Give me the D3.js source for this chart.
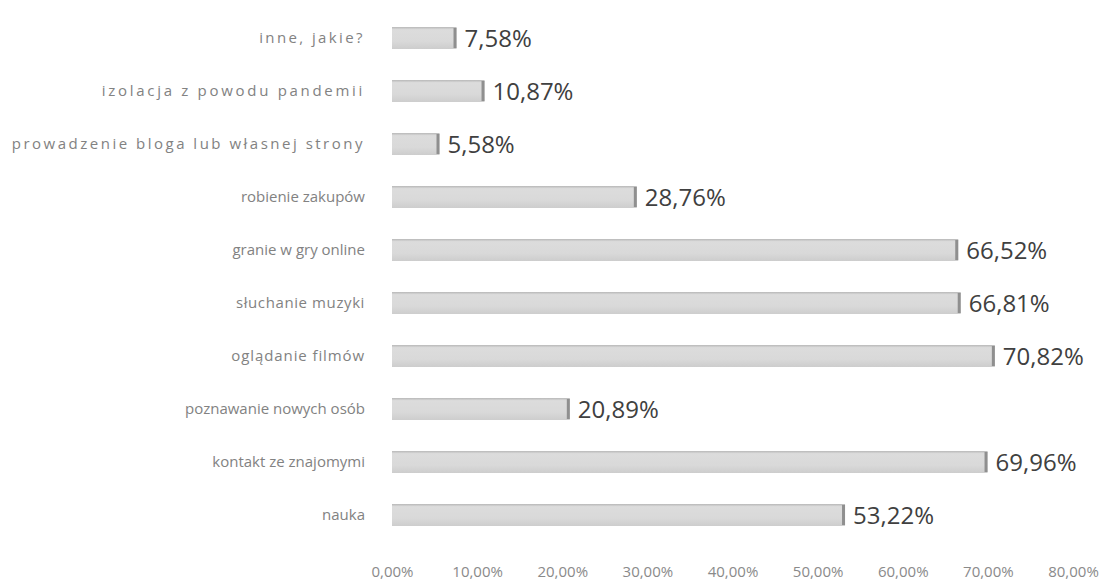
<!DOCTYPE html>
<html>
<head>
<meta charset="utf-8">
<script src="https://cdn.jsdelivr.net/npm/d3@7"></script>
<style>
  html, body { margin: 0; padding: 0; background: #ffffff; }
  svg { display: block; }
</style>
</head>
<body>
<svg id="chart" width="1102" height="583"></svg>
<script>
// Activity categories, listed top to bottom
const categories = [
  "inne, jakie?",
  "izolacja z powodu pandemii",
  "prowadzenie bloga lub własnej strony",
  "robienie zakupów",
  "granie w gry online",
  "słuchanie muzyki",
  "oglądanie filmów",
  "poznawanie nowych osób",
  "kontakt ze znajomymi",
  "nauka"
];

// Share of respondents (%)
const values = [7.58, 10.87, 5.58, 28.76, 66.52, 66.81, 70.82, 20.89, 69.96, 53.22];

// Value labels as printed beside each bar
const valueLabels = ["7,58%", "10,87%", "5,58%", "28,76%", "66,52%", "66,81%", "70,82%", "20,89%", "69,96%", "53,22%"];

// Horizontal axis ticks
const tickValues = [0, 10, 20, 30, 40, 50, 60, 70, 80];
const tickLabels = ["0,00%", "10,00%", "20,00%", "30,00%", "40,00%", "50,00%", "60,00%", "70,00%", "80,00%"];

// Extra letter tracking (px) for the more loosely set category labels
const labelTracking = {
  "inne, jakie?": 2.4,
  "izolacja z powodu pandemii": 2.7,
  "prowadzenie bloga lub własnej strony": 2.5,
  "słuchanie muzyki": 0.6,
  "oglądanie filmów": 0.9
};

const svg = d3.select("#chart");

const x = d3.scaleLinear().domain([0, 80]).range([392, 1073]);
const y = d3.scalePoint().domain(categories).range([38, 515]);
const barH = 22;

// Soft vertical shading for the bars
const defs = svg.append("defs");
const grad = defs.append("linearGradient")
  .attr("id", "barShade").attr("x1", 0).attr("y1", 0).attr("x2", 0).attr("y2", 1);
grad.append("stop").attr("offset", "0%").attr("stop-color", "#b8b8b8");
grad.append("stop").attr("offset", "12%").attr("stop-color", "#dcdcdc");
grad.append("stop").attr("offset", "65%").attr("stop-color", "#d9d9d9");
grad.append("stop").attr("offset", "100%").attr("stop-color", "#cdcdcd");

const rows = svg.append("g").selectAll("g.row")
  .data(categories.map((c, i) => ({ c, v: values[i], label: valueLabels[i] })))
  .join("g").attr("class", "row");

// Bars
rows.append("rect")
  .attr("x", x(0))
  .attr("y", d => y(d.c) - barH / 2)
  .attr("width", d => x(d.v) - x(0))
  .attr("height", barH)
  .attr("fill", "url(#barShade)");

// Darker end cap on each bar
rows.append("rect")
  .attr("x", d => x(d.v) - 3)
  .attr("y", d => y(d.c) - barH / 2 + 1)
  .attr("width", 3)
  .attr("height", barH - 2)
  .attr("fill", "#8f8f8f");

// Category labels
rows.append("text")
  .attr("x", 365)
  .attr("y", d => y(d.c))
  .attr("dy", "0.35em")
  .attr("text-anchor", "end")
  .attr("font-family", "'Open Sans', sans-serif")
  .attr("font-size", 15)
  .attr("letter-spacing", d => (labelTracking[d.c] || 0) + "px")
  .attr("fill", "#828282")
  .text(d => d.c);

// Value labels
rows.append("text")
  .attr("x", d => x(d.v) + 8)
  .attr("y", d => y(d.c))
  .attr("dy", "0.36em")
  .attr("font-family", "'Open Sans', sans-serif")
  .attr("font-size", 24)
  .attr("fill", "#404040")
  .text(d => d.label);

// Bottom axis (labels only)
const axis = d3.axisBottom(x)
  .tickValues(tickValues)
  .tickFormat((d, i) => tickLabels[i])
  .tickSize(0)
  .tickPadding(3);

const gAxis = svg.append("g")
  .attr("transform", "translate(0,563)")
  .call(axis);
gAxis.select(".domain").remove();
gAxis.selectAll("text")
  .attr("font-family", "'Open Sans', sans-serif")
  .attr("font-size", 15)
  .attr("fill", "#8a8a8a");
</script>
</body>
</html>
